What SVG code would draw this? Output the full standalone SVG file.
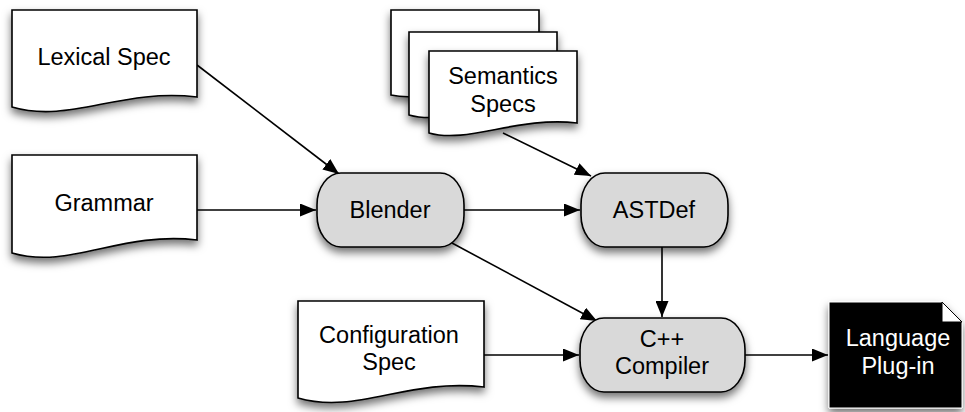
<svg xmlns="http://www.w3.org/2000/svg" width="965" height="412" viewBox="0 0 965 412">
<style>
text{font-family:"Liberation Sans",Arial,sans-serif;font-size:23.5px;fill:#000;text-anchor:middle}
.doc{fill:#fff;stroke:#000;stroke-width:1.6;filter:url(#sh)}
.proc{fill:#d9d9d9;stroke:#000;stroke-width:1.6;filter:url(#sh)}
.edge{fill:none;stroke:#000;stroke-width:1.6;marker-end:url(#ah)}
</style>
<defs>
<filter id="sh" x="-20%" y="-20%" width="140%" height="150%">
<feDropShadow dx="0" dy="5" stdDeviation="4.5" flood-color="#000" flood-opacity="0.55"/>
</filter>
<marker id="ah" viewBox="0 0 16 13" refX="16" refY="6.5" markerWidth="16" markerHeight="13" markerUnits="userSpaceOnUse" orient="auto">
<path d="M0,0 L16,6.5 L0,13 z" fill="#000"/>
</marker>
</defs>
<g id="connectors">
<line class="edge" x1="197" y1="65" x2="339" y2="174"/>
<line class="edge" x1="197" y1="210" x2="316" y2="210"/>
<line class="edge" x1="503" y1="133" x2="591" y2="176"/>
<line class="edge" x1="464" y1="210" x2="580" y2="210"/>
<line class="edge" x1="452" y1="243" x2="597" y2="321"/>
<line class="edge" x1="662" y1="247" x2="662" y2="317"/>
<line class="edge" x1="484" y1="355" x2="579" y2="355"/>
<line class="edge" x1="745" y1="355" x2="828" y2="355"/>
</g>
<g id="lexical">
<path class="doc" d="M12,10 H197 V97 C120,88 70,124 12,107 Z"/>
<text x="104" y="65">Lexical Spec</text>
</g>
<g id="grammar">
<path class="doc" d="M12,155 H197 V240 C120,231 70,270 12,253 Z"/>
<text x="104" y="211">Grammar</text>
</g>
<g id="semantics">
<path class="doc" d="M391,10 H539 V83 C480,76 430,104 391,95 Z"/>
<path class="doc" d="M409,32 H557 V105 C498,98 448,126 409,115 Z"/>
<path class="doc" d="M429,51 H577 V123 C518,116 468,144 429,133 Z"/>
<text x="503" y="84">Semantics</text>
<text x="503" y="112">Specs</text>
</g>
<g id="blender">
<rect class="proc" x="317" y="173" width="147" height="74" rx="24" ry="32"/>
<text x="390" y="218">Blender</text>
</g>
<g id="astdef">
<rect class="proc" x="581" y="173" width="147" height="74" rx="24" ry="32"/>
<text x="654" y="218">ASTDef</text>
</g>
<g id="config">
<path class="doc" d="M298,301 H484 V387 C407,378 357,415 298,398 Z"/>
<text x="389" y="343">Configuration</text>
<text x="389" y="370">Spec</text>
</g>
<g id="compiler">
<rect class="proc" x="580" y="318" width="165" height="74" rx="24" ry="32"/>
<text x="662" y="347">C++</text>
<text x="662" y="374">Compiler</text>
</g>
<g id="plugin">
<path d="M829,302 H942 L962,322 V408 H829 Z" fill="#000" stroke="#fff" stroke-width="1" filter="url(#sh)"/>
<path d="M942,302 V322 H962 Z" fill="#fff" stroke="#000" stroke-width="1"/>
<text x="898" y="346" style="fill:#fff">Language</text>
<text x="898" y="374" style="fill:#fff">Plug-in</text>
</g>
</svg>
